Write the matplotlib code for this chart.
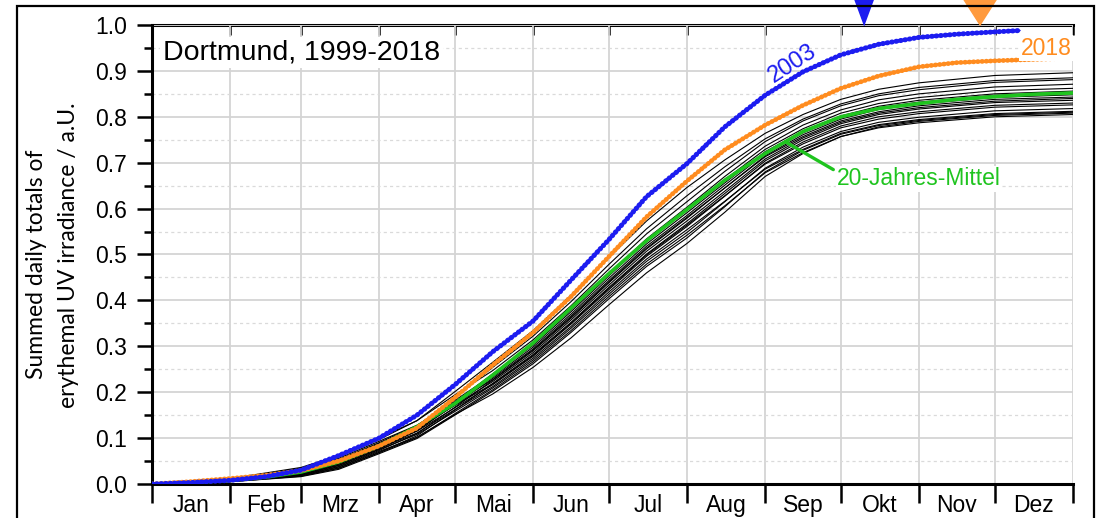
import numpy as np
import matplotlib
matplotlib.use("Agg")
import matplotlib.pyplot as plt
from matplotlib.patches import Rectangle
from matplotlib.ticker import (FixedLocator, MultipleLocator, NullFormatter,
                               FixedFormatter, FormatStrFormatter)

# ---------------------------------------------------------------- data
months = ["Jan", "Feb", "Mrz", "Apr", "Mai", "Jun", "Jul", "Aug", "Sep", "Okt", "Nov", "Dez"]
month_starts = [0, 31, 59, 90, 120, 151, 181, 212, 243, 273, 304, 334, 365]

# day of year for the 20-year mean and 2018
days_fine = [0, 15, 31, 45, 59, 74, 90, 105, 120, 135, 151, 166, 181, 196,
             212, 227, 243, 258, 273, 288, 304, 319, 334, 349, 365]
mean_20y = [0, 0.003, 0.008, 0.015, 0.026, 0.048, 0.083, 0.125, 0.175, 0.237,
            0.307, 0.383, 0.458, 0.530, 0.598, 0.662, 0.720, 0.768, 0.800,
            0.818, 0.829, 0.838, 0.844, 0.849, 0.852]
y2018 = [0, 0.005, 0.012, 0.019, 0.029, 0.050, 0.083, 0.122, 0.188, 0.259,
         0.330, 0.408, 0.495, 0.582, 0.660, 0.728, 0.782, 0.825, 0.862,
         0.889, 0.909, 0.918, 0.922, 0.925, 0.928]

# 2003 (series ends in early December)
days_2003 = [0, 15, 31, 45, 59, 74, 90, 105, 120, 135, 151, 166, 181, 196,
             212, 227, 243, 258, 273, 288, 304, 319, 334, 344]
y2003 = [0, 0.003, 0.008, 0.016, 0.030, 0.062, 0.100, 0.150, 0.216, 0.288,
         0.355, 0.444, 0.532, 0.626, 0.698, 0.778, 0.847, 0.898, 0.935,
         0.958, 0.973, 0.980, 0.985, 0.988]

# remaining single years
days_years = [0, 31, 59, 74, 90, 105, 120, 135, 151, 166, 181, 196, 212, 227,
              243, 258, 273, 288, 304, 334, 365]
other_01 = [0, 0.011, 0.034, 0.059, 0.097, 0.138, 0.201, 0.265, 0.334, 0.411, 0.493, 0.573, 0.646, 0.706, 0.764, 0.805, 0.838, 0.860, 0.874, 0.890, 0.896]
other_02 = [0, 0.009, 0.026, 0.047, 0.083, 0.124, 0.188, 0.254, 0.322, 0.397, 0.478, 0.556, 0.628, 0.691, 0.752, 0.795, 0.828, 0.850, 0.864, 0.879, 0.885]
other_03 = [0, 0.012, 0.036, 0.062, 0.100, 0.138, 0.194, 0.247, 0.314, 0.388, 0.468, 0.545, 0.615, 0.681, 0.746, 0.791, 0.824, 0.846, 0.859, 0.875, 0.881]
other_04 = [0, 0.007, 0.022, 0.041, 0.076, 0.116, 0.177, 0.240, 0.306, 0.379, 0.458, 0.534, 0.603, 0.670, 0.736, 0.782, 0.815, 0.837, 0.850, 0.865, 0.871]
other_05 = [0, 0.010, 0.030, 0.053, 0.090, 0.127, 0.182, 0.237, 0.302, 0.375, 0.453, 0.529, 0.597, 0.663, 0.729, 0.774, 0.808, 0.829, 0.842, 0.857, 0.862]
other_06 = [0, 0.009, 0.028, 0.050, 0.086, 0.123, 0.178, 0.233, 0.298, 0.370, 0.448, 0.523, 0.591, 0.656, 0.724, 0.769, 0.802, 0.823, 0.836, 0.850, 0.856]
other_07 = [0, 0.008, 0.024, 0.044, 0.080, 0.116, 0.173, 0.230, 0.294, 0.366, 0.443, 0.518, 0.585, 0.651, 0.720, 0.765, 0.799, 0.820, 0.832, 0.847, 0.852]
other_08 = [0, 0.006, 0.020, 0.038, 0.073, 0.110, 0.167, 0.226, 0.290, 0.361, 0.438, 0.512, 0.579, 0.645, 0.715, 0.761, 0.795, 0.816, 0.828, 0.842, 0.848]
other_09 = [0, 0.011, 0.032, 0.056, 0.093, 0.128, 0.179, 0.227, 0.292, 0.363, 0.440, 0.514, 0.581, 0.645, 0.713, 0.757, 0.791, 0.811, 0.824, 0.838, 0.843]
other_10 = [0, 0.009, 0.027, 0.049, 0.085, 0.119, 0.172, 0.223, 0.286, 0.357, 0.433, 0.507, 0.573, 0.638, 0.708, 0.754, 0.788, 0.808, 0.820, 0.834, 0.840]
other_11 = [0, 0.006, 0.018, 0.035, 0.069, 0.105, 0.161, 0.219, 0.282, 0.352, 0.428, 0.501, 0.567, 0.633, 0.704, 0.750, 0.785, 0.805, 0.817, 0.831, 0.836]
other_12 = [0, 0.008, 0.025, 0.046, 0.081, 0.115, 0.166, 0.216, 0.278, 0.348, 0.423, 0.496, 0.561, 0.627, 0.699, 0.745, 0.780, 0.800, 0.811, 0.825, 0.830]
other_13 = [0, 0.010, 0.029, 0.052, 0.088, 0.121, 0.171, 0.218, 0.280, 0.350, 0.426, 0.499, 0.564, 0.628, 0.697, 0.741, 0.776, 0.795, 0.807, 0.821, 0.826]
other_14 = [0, 0.007, 0.021, 0.040, 0.075, 0.108, 0.158, 0.209, 0.270, 0.339, 0.413, 0.485, 0.548, 0.615, 0.688, 0.734, 0.768, 0.788, 0.799, 0.813, 0.818]
other_15 = [0, 0.008, 0.023, 0.043, 0.078, 0.111, 0.162, 0.212, 0.274, 0.343, 0.418, 0.490, 0.554, 0.616, 0.686, 0.729, 0.764, 0.783, 0.794, 0.807, 0.812]
other_16 = [0, 0.005, 0.016, 0.032, 0.066, 0.099, 0.150, 0.202, 0.262, 0.330, 0.403, 0.474, 0.536, 0.604, 0.680, 0.727, 0.762, 0.781, 0.792, 0.805, 0.810]
other_17 = [0, 0.006, 0.019, 0.037, 0.071, 0.102, 0.151, 0.196, 0.254, 0.318, 0.390, 0.460, 0.524, 0.592, 0.670, 0.720, 0.757, 0.778, 0.790, 0.803, 0.808]
other_18 = [0, 0.005, 0.017, 0.034, 0.068, 0.101, 0.153, 0.205, 0.266, 0.334, 0.408, 0.479, 0.542, 0.606, 0.678, 0.722, 0.757, 0.776, 0.787, 0.800, 0.805]
other_years = [other_01, other_02, other_03, other_04, other_05, other_06,
               other_07, other_08, other_09, other_10, other_11, other_12,
               other_13, other_14, other_15, other_16, other_17, other_18]

# days flagged at the top edge
flag_day_2003 = 282
flag_day_2018 = 328

# ---------------------------------------------------------------- style
BLUE = "#1c1cf0"
ORANGE = "#ff8c1f"
ORANGE_FLAG = "#ff9a3d"
GREEN = "#1fc41f"
GRID = "#d4d4d4"
TICK_FONT = "Liberation Sans"

W, H = 1099, 518
fig = plt.figure(figsize=(W / 100, H / 100), dpi=100)
ax = fig.add_axes([152 / W, 34 / H, (1073 - 152) / W, (484 - 25) / H])

# single years
for vals in other_years:
    ax.plot(days_years, vals, color="black", lw=0.8, zorder=3)

# 20-year mean
ax.plot(days_fine, mean_20y, color=GREEN, lw=2.6, zorder=4, solid_capstyle="butt")

# 2018: dense dotted trace
ax.plot(days_fine, y2018, color=ORANGE, lw=1.0, zorder=5)
ax.plot(days_fine, y2018, color=ORANGE, lw=3.4, ls=(0, (0.15, 0.75)),
        dash_capstyle="round", zorder=5)

# 2003: thin line plus dotted trace
ax.plot(days_2003, y2003, color=BLUE, lw=0.9, zorder=6)
ax.plot(days_2003, y2003, color=BLUE, lw=3.6, ls=(0, (0.15, 0.75)),
        dash_capstyle="round", zorder=6)

# flags above the plot
ax.plot([flag_day_2003], [1.0], marker=[(0, 0), (-0.37, 1), (0.37, 1)],
        markersize=52, color=BLUE, clip_on=False, zorder=10, linestyle="none")
ax.plot([flag_day_2018], [1.0], marker=[(0, 0), (-0.64, 1), (0.64, 1)],
        markersize=50, color=ORANGE_FLAG, clip_on=False, zorder=10, linestyle="none")

# axes limits and ticks
ax.set_xlim(0, 365)
ax.set_ylim(0, 1)
ax.xaxis.set_major_locator(FixedLocator(month_starts))
ax.xaxis.set_major_formatter(NullFormatter())
mids = [(a + b) / 2 for a, b in zip(month_starts[:-1], month_starts[1:])]
ax.xaxis.set_minor_locator(FixedLocator(mids))
ax.xaxis.set_minor_formatter(FixedFormatter(months))
ax.tick_params(axis="x", which="major", direction="out", length=14, width=1.8,
               top=False)
ax.tick_params(axis="x", which="minor", length=0, pad=20, labelsize=16.5)
ax.yaxis.set_major_locator(MultipleLocator(0.1))
ax.yaxis.set_minor_locator(MultipleLocator(0.05))
ax.yaxis.set_major_formatter(FormatStrFormatter("%.1f"))
ax.tick_params(axis="y", which="major", direction="out", length=11, width=1.8,
               pad=7, labelsize=16.5)
ax.tick_params(axis="y", which="minor", direction="out", length=6, width=1.8)
for lab in ax.get_xticklabels(minor=True):
    lab.set_fontfamily(TICK_FONT)
    lab.set_verticalalignment("baseline")
for lab in ax.get_yticklabels():
    lab.set_fontfamily(TICK_FONT)

ax.grid(which="major", color=GRID, lw=1.3, zorder=0)
ax.yaxis.grid(which="minor", color="#dadada", lw=0.9, ls=(0, (2.5, 2.5)))
ax.set_axisbelow(True)

for side in ("right", "top"):
    ax.spines[side].set_visible(False)
for side in ("left", "bottom"):
    ax.spines[side].set_linewidth(2.2)

# top axis with inward ticks at the month boundaries
top = ax.secondary_xaxis("top")
top.set_xticks(month_starts)
top.tick_params(direction="in", length=7, width=1.8, labeltop=False)
top.spines["top"].set_linewidth(2.2)

# labels
ax.text(11 / 921, 0.925, "Dortmund, 1999-2018", transform=ax.transAxes,
        fontsize=20.5, family=TICK_FONT, va="baseline", ha="left", zorder=8,
        bbox=dict(facecolor="white", edgecolor="none", pad=2))
ax.text(364.5, 0.935, "2018", color=ORANGE, fontsize=16.5, family=TICK_FONT,
        ha="right", va="baseline", zorder=8,
        bbox=dict(facecolor="white", edgecolor="none", pad=1))
ax.text(254, 0.915, "2003", color=BLUE, fontsize=17, family=TICK_FONT,
        ha="center", va="center", rotation=33, rotation_mode="anchor", zorder=8)
tip_day = 251
ax.annotate("20-Jahres-Mittel", xy=(tip_day, np.interp(tip_day, days_fine, mean_20y)),
            xytext=(271.5, 0.651), textcoords="data", color=GREEN, fontsize=16.5,
            family=TICK_FONT, ha="left", va="baseline", zorder=8,
            bbox=dict(facecolor="white", edgecolor="none", pad=1),
            arrowprops=dict(arrowstyle="-", color=GREEN, lw=2.4, shrinkA=2,
                            shrinkB=0, relpos=(0.0, 0.8)))

# y axis title (two lines)
fig.text(37 / W, 1 - 264 / H, "Summed daily totals of", rotation=90,
         ha="center", va="center", fontsize=16.5, family="Lato")
fig.text(69 / W, 1 - 255 / H, "erythemal UV irradiance / a.U.", rotation=90,
         ha="center", va="center", fontsize=16.5, family="Lato")

# outer frame
fig.patches.append(Rectangle((17 / W, -0.05), (1094 - 17) / W, 1.05 - 6 / H,
                             transform=fig.transFigure, fill=False,
                             edgecolor="black", lw=1.6, zorder=0))

fig.savefig("out.png", dpi=100)
